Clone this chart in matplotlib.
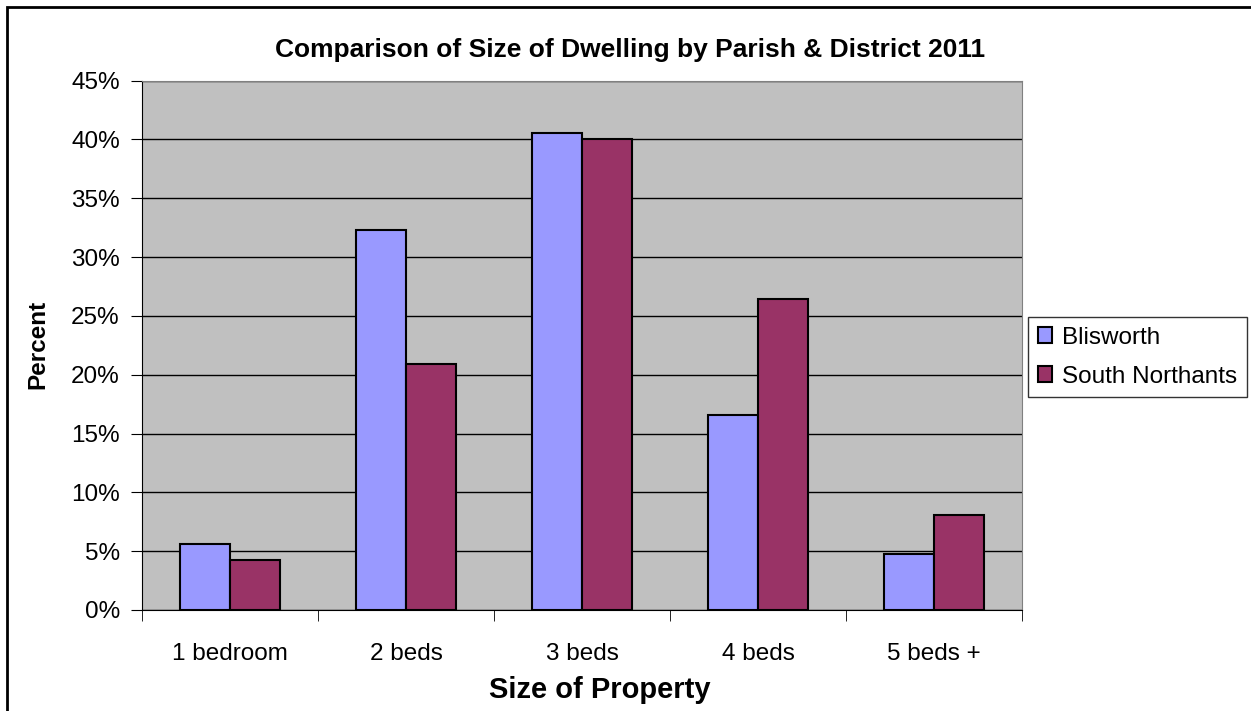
import numpy as np
import matplotlib
matplotlib.use("Agg")
import matplotlib.pyplot as plt
from matplotlib.ticker import PercentFormatter
from matplotlib.patches import Rectangle

plt.rcParams['font.family'] = ['Liberation Sans', 'DejaVu Sans']

# data
categories = ["1 bedroom", "2 beds", "3 beds", "4 beds", "5 beds +"]
blisworth = [5.6, 32.3, 40.5, 16.6, 4.8]
south_northants = [4.25, 20.9, 40.0, 26.4, 8.1]
series_names = ["Blisworth", "South Northants"]
colors = ["#9999FF", "#993366"]

W, H = 1251, 711
fig = plt.figure(figsize=(W / 100, H / 100), dpi=100)

# outer chart border (only top/left visible in the reference)
fig.patches.append(Rectangle((7 / W, -0.05), 1.2, 1 - 7 / H + 0.05,
                             transform=fig.transFigure, fill=False,
                             edgecolor="black", linewidth=2))

ax = fig.add_axes([142 / W, 1 - 610 / H, 880 / W, 529.5 / H])
ax.set_facecolor("#C0C0C0")

x = np.arange(len(categories))
bw = 0.284
vals = [blisworth, south_northants]
for k, (name, v) in enumerate(zip(series_names, vals)):
    ax.bar(x + (k - 0.5) * bw, np.array(v) / 100, width=bw, color=colors[k],
           edgecolor="black", linewidth=1.5, label=name, zorder=3)

ax.set_xlim(-0.5, len(categories) - 0.5)
ax.set_ylim(0, 0.45)
ax.set_yticks(np.arange(0, 0.46, 0.05))
ax.yaxis.set_major_formatter(PercentFormatter(1.0, decimals=0))
ax.grid(axis="y", color="black", linewidth=1, zorder=1)

ax.set_xticks(x)
ax.set_xticklabels(categories)
ax.set_xticks(np.arange(-0.5, len(categories), 1.0), minor=True)
ax.tick_params(axis="x", which="major", length=0, pad=24, labelsize=17.5)
ax.tick_params(axis="x", which="minor", length=8, direction="out", color="black")
ax.tick_params(axis="y", length=8, direction="out", pad=8, labelsize=17.5, color="black")

for side in ["top", "right"]:
    ax.spines[side].set_color("#808080")
ax.spines["left"].set_color("black")
ax.spines["bottom"].set_color("black")

fig.text(38 / W, 1 - 344 / H, "Percent", ha="center", va="center", rotation=90,
         fontsize=17.5, fontweight="bold")
fig.text(600 / W, 1 - 690 / H, "Size of Property", ha="center", va="center",
         fontsize=21, fontweight="bold")

fig.text(630 / W, 1 - 50 / H, "Comparison of Size of Dwelling by Parish & District 2011",
         ha="center", va="center", fontsize=19, fontweight="bold")

leg = fig.legend(loc="upper left", bbox_to_anchor=(1028 / W, 1 - 317 / H),
                 fontsize=17.5, frameon=True, fancybox=False, borderaxespad=0,
                 handlelength=0.6, handleheight=0.6, handletextpad=0.4,
                 labelspacing=0.7, borderpad=0.4)
leg.get_frame().set_edgecolor("black")
leg.get_frame().set_linewidth(1)

fig.savefig("out.png", dpi=100)
